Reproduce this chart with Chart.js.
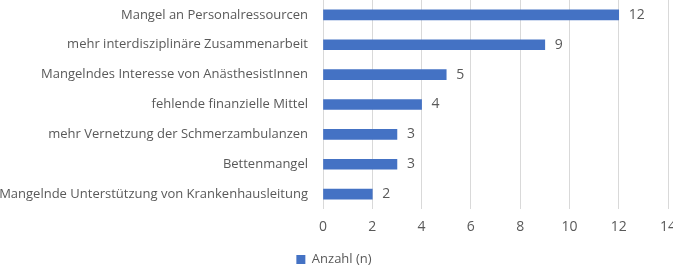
<!DOCTYPE html>
<html>
<head>
<meta charset="utf-8">
<script src="https://cdn.jsdelivr.net/npm/chart.js@4"></script>
<style>
  html, body { margin: 0; padding: 0; background: #fff; }
  #wrap { width: 673px; height: 269px; }
</style>
</head>
<body>
<div id="wrap"><canvas id="chart"></canvas></div>
<script>
  // Daten
  const kategorien = [
    'Mangel an Personalressourcen',
    'mehr interdisziplinäre Zusammenarbeit',
    'Mangelndes Interesse von AnästhesistInnen',
    'fehlende finanzielle Mittel',
    'mehr Vernetzung der Schmerzambulanzen',
    'Bettenmangel',
    'Mangelnde Unterstützung von Krankenhausleitung'
  ];
  const anzahl = [12, 9, 5, 4, 3, 3, 2];
  const serienName = 'Anzahl (n)';
  const xMin = 0, xMax = 14, xStep = 2;

  const GRAU = '#595959';
  const BLAU = '#4472C4';
  const FONT = "'Open Sans', sans-serif";

  // Werte an Balkenenden
  const wertLabels = {
    id: 'wertLabels',
    afterDatasetsDraw(chart) {
      const ctx = chart.ctx;
      const meta = chart.getDatasetMeta(0);
      ctx.save();
      ctx.fillStyle = GRAU;
      ctx.font = '14px ' + FONT;
      ctx.textAlign = 'left';
      ctx.textBaseline = 'middle';
      meta.data.forEach((bar, i) => {
        ctx.fillText(String(anzahl[i]), bar.x + 10, bar.y);
      });
      ctx.restore();
    }
  };

  new Chart(document.getElementById('chart'), {
    type: 'bar',
    data: {
      labels: kategorien,
      datasets: [{
        label: serienName,
        data: anzahl,
        backgroundColor: BLAU,
        borderWidth: 0,
        barThickness: 10
      }]
    },
    options: {
      indexAxis: 'y',
      responsive: true,
      maintainAspectRatio: false,
      animation: false,
      layout: { padding: { top: 0, right: 5, bottom: -7, left: 0 } },
      plugins: {
        legend: {
          position: 'bottom',
          labels: {
            boxWidth: 9,
            boxHeight: 9,
            color: GRAU,
            font: { family: FONT, size: 13 },
            padding: 0
          }
        },
        tooltip: { enabled: false }
      },
      scales: {
        x: {
          min: xMin,
          max: xMax,
          ticks: {
            stepSize: xStep,
            color: GRAU,
            font: { family: FONT, size: 14 },
            padding: 10
          },
          grid: { color: '#d9d9d9', drawTicks: false },
          border: { display: false },
          afterFit: (s) => { s.height = 44; s.paddingLeft = 0; s.paddingRight = 0; }
        },
        y: {
          ticks: {
            color: GRAU,
            font: { family: FONT, size: 13 },
            padding: 15,
            autoSkip: false
          },
          grid: { display: false, drawTicks: false },
          border: { display: false },
          afterFit: (s) => { s.width = 323; s.paddingTop = 0; s.paddingBottom = 0; }
        }
      }
    },
    plugins: [wertLabels]
  });
</script>
</body>
</html>
